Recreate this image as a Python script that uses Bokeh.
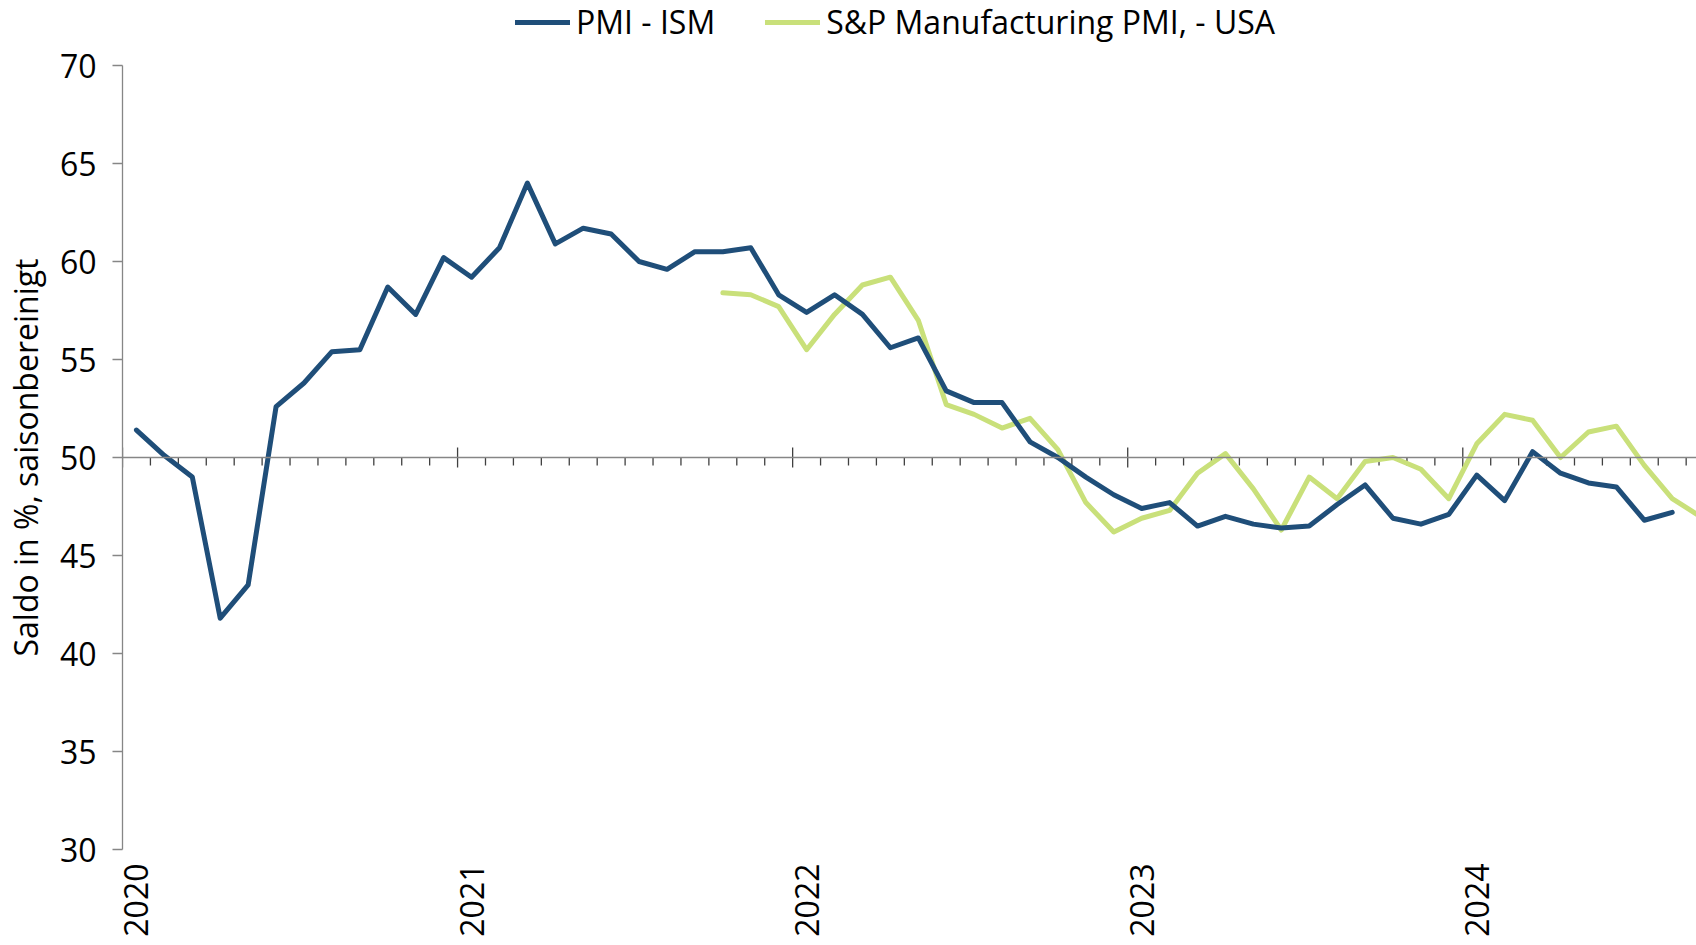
from math import pi
from bokeh.plotting import figure
from bokeh.layouts import column
from bokeh.models import Range1d, FixedTicker, Legend, LegendItem, Span, ColumnDataSource
from bokeh.embed import file_html
from bokeh.resources import INLINE

# ---- data (monthly, Jan 2020 onwards) ----
years = ["2020", "2021", "2022", "2023", "2024"]
ism_pmi = [
    51.4, 50.1, 49.0, 41.8, 43.5, 52.6, 53.8, 55.4, 55.5, 58.7, 57.3, 60.2,   # 2020
    59.2, 60.7, 64.0, 60.9, 61.7, 61.4, 60.0, 59.6, 60.5, 60.5, 60.7, 58.3,   # 2021
    57.4, 58.3, 57.3, 55.6, 56.1, 53.4, 52.8, 52.8, 50.8, 50.0, 49.0, 48.1,   # 2022
    47.4, 47.7, 46.5, 47.0, 46.6, 46.4, 46.5, 47.6, 48.6, 46.9, 46.6, 47.1,   # 2023
    49.1, 47.8, 50.3, 49.2, 48.7, 48.5, 46.8, 47.2,                           # 2024
]
sp_start_month = 21  # Oct 2021
sp_pmi = [
    58.4, 58.3, 57.7,                                                         # 2021
    55.5, 57.3, 58.8, 59.2, 57.0, 52.7, 52.2, 51.5, 52.0, 50.4, 47.7, 46.2,   # 2022
    46.9, 47.3, 49.2, 50.2, 48.4, 46.3, 49.0, 47.9, 49.8, 50.0, 49.4, 47.9,   # 2023
    50.7, 52.2, 51.9, 50.0, 51.3, 51.6, 49.6, 47.9, 47.0,                     # 2024
]
series_names = ["PMI - ISM", "S&P Manufacturing PMI, - USA"]

# ---- style ----
FONT = "Open Sans"
BLUE = "#1f4e79"
GREEN = "#c9e07a"
AXIS_GREY = "#868686"
TICK_COL = "#404040"
LW = 5
Y_MIN, Y_MAX = 30, 70
X_MAX = 56.37
W = 1696
LEG_H = 44
H = 945 - LEG_H
B_LEFT, B_TOP, B_BOTTOM = 121, 21, 96
frame_h = H - B_TOP - B_BOTTOM
dpp = (Y_MAX - Y_MIN) / frame_h

ism_src = ColumnDataSource(dict(x=[i + 0.5 for i in range(len(ism_pmi))], y=ism_pmi))
sp_src = ColumnDataSource(dict(x=[sp_start_month + i + 0.5 for i in range(len(sp_pmi))], y=sp_pmi))

# ---------------- legend strip ----------------
# same series drawn again, but outside this strip's visible range: only the legend shows
leg = figure(width=W, height=LEG_H, x_range=Range1d(0, X_MAX), y_range=Range1d(0, 1),
             output_backend="svg", toolbar_location=None,
             min_border=0, min_border_left=0, min_border_right=0,
             min_border_top=0, min_border_bottom=0)
leg.axis.visible = False
leg.grid.visible = False
leg.outline_line_color = None
leg.background_fill_color = "white"
leg.border_fill_color = "white"
lr_ism = leg.line("x", "y", source=ism_src, line_color=BLUE, line_width=LW, line_cap="round")
lr_sp = leg.line("x", "y", source=sp_src, line_color=GREEN, line_width=LW, line_cap="round")
legend = Legend(items=[LegendItem(label=series_names[0], renderers=[lr_ism]),
                       LegendItem(label=series_names[1], renderers=[lr_sp])],
                orientation="horizontal", location=(393, 1),
                label_text_font=FONT, label_text_font_size="32px", label_text_color="black",
                glyph_width=55, glyph_height=30, label_height=30, label_standoff=6, spacing=50,
                padding=0, margin=0, border_line_color=None, background_fill_alpha=0)
leg.add_layout(legend)

# ---------------- main chart ----------------
p = figure(width=W, height=H, x_range=Range1d(0, X_MAX), y_range=Range1d(Y_MIN, Y_MAX),
           output_backend="svg", toolbar_location=None,
           min_border_left=B_LEFT, min_border_right=0, min_border_top=B_TOP,
           min_border_bottom=B_BOTTOM)
p.outline_line_color = None
p.grid.visible = False
p.background_fill_color = "white"
p.border_fill_color = "white"

# y axis
p.yaxis.ticker = FixedTicker(ticks=list(range(Y_MIN, Y_MAX + 1, 5)))
p.yaxis.axis_line_color = AXIS_GREY
p.yaxis.axis_line_width = 1.3
p.yaxis.major_tick_line_color = AXIS_GREY
p.yaxis.major_tick_line_width = 1.3
p.yaxis.major_tick_in = 0
p.yaxis.major_tick_out = 10
p.yaxis.minor_tick_line_color = None
p.yaxis.major_label_text_font = FONT
p.yaxis.major_label_text_font_size = "32px"
p.yaxis.major_label_text_color = "black"
p.yaxis.major_label_standoff = 16
p.yaxis.axis_label = "Saldo in %, saisonbereinigt"
p.yaxis.axis_label_text_font = FONT
p.yaxis.axis_label_text_font_size = "32px"
p.yaxis.axis_label_text_font_style = "normal"
p.yaxis.axis_label_text_color = "black"
p.yaxis.axis_label_standoff = 10

# x axis: only year labels
year_pos = [12 * k + 0.5 for k in range(len(years))]
p.xaxis.ticker = FixedTicker(ticks=year_pos)
p.xaxis.major_label_overrides = {pos: y for pos, y in zip(year_pos, years)}
p.xaxis.axis_line_color = None
p.xaxis.major_tick_line_color = None
p.xaxis.minor_tick_line_color = None
p.xaxis.major_label_orientation = pi / 2
p.xaxis.major_label_standoff = 8
p.xaxis.major_label_text_font = FONT
p.xaxis.major_label_text_font_size = "32px"
p.xaxis.major_label_text_color = "black"

# horizontal 50-line acting as the category axis
p.add_layout(Span(location=50, dimension="width", line_color=AXIS_GREY, line_width=1.6))
n_months = int(X_MAX) + 1
maj_x = [m for m in range(n_months) if m % 12 == 0]
min_x = [m for m in range(n_months) if m % 12 != 0]
p.segment(x0=maj_x, x1=maj_x, y0=[50 - 10 * dpp] * len(maj_x), y1=[50 + 10 * dpp] * len(maj_x),
          line_color=TICK_COL, line_width=1.3)
p.segment(x0=min_x, x1=min_x, y0=[50] * len(min_x), y1=[50 - 8 * dpp] * len(min_x),
          line_color=TICK_COL, line_width=1.3)

# series
p.line("x", "y", source=sp_src, line_color=GREEN, line_width=LW,
       line_join="round", line_cap="round")
p.line("x", "y", source=ism_src, line_color=BLUE, line_width=LW,
       line_join="round", line_cap="round")

layout = column(leg, p, spacing=0)
open("out.html", "w").write(file_html(layout, INLINE))
